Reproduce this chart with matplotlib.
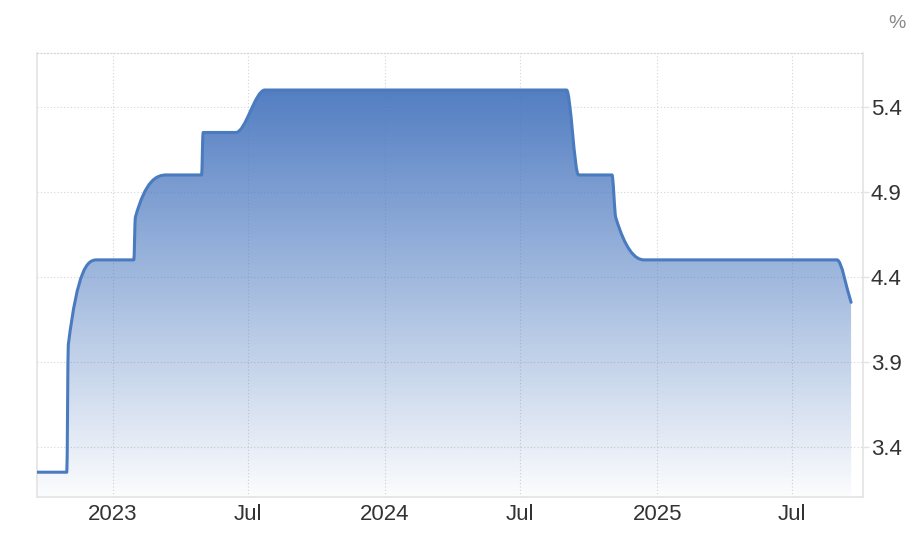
import numpy as np
import matplotlib
matplotlib.use('Agg')
import matplotlib.pyplot as plt
import matplotlib.dates as mdates
from matplotlib.path import Path
from matplotlib.patches import PathPatch

plt.rcParams['font.family'] = ['Liberation Sans', 'DejaVu Sans']

# --- data ---
dates = np.array(['2022-09-21', '2022-10-31', '2022-11-02', '2022-12-10',
                  '2023-01-29', '2023-01-31', '2023-03-14', '2023-04-30',
                  '2023-05-02', '2023-06-15', '2023-07-24', '2024-09-01',
                  '2024-09-17', '2024-11-01', '2024-11-06', '2024-12-14',
                  '2025-08-30', '2025-09-18'], dtype='datetime64[D]')
rates = [3.25, 3.25, 4.00, 4.50,
         4.50, 4.75, 5.00, 5.00,
         5.25, 5.25, 5.50, 5.50,
         5.00, 5.00, 4.75, 4.50,
         4.50, 4.25]

y_ticks = [3.4, 3.9, 4.4, 4.9, 5.4]
x_tick_dates = np.array(['2023-01-01', '2023-07-01', '2024-01-01',
                         '2024-07-01', '2025-01-01', '2025-07-01'], dtype='datetime64[D]')
x_tick_labels = ['2023', 'Jul', '2024', 'Jul', '2025', 'Jul']

LINE = '#4a7bbf'
GRID = '#d4d4d4'
AXC = '#e3e3e3'
TXT = '#333333'


def monotone_slopes(x, y):
    """PCHIP-style tangents so the spline does not overshoot."""
    h = np.diff(x)
    d = np.diff(y) / h
    m = np.zeros(len(x))
    m[0], m[-1] = d[0], d[-1]
    for k in range(1, len(x) - 1):
        if d[k - 1] * d[k] <= 0:
            m[k] = 0.0
        else:
            w1 = 2 * h[k] + h[k - 1]
            w2 = h[k] + 2 * h[k - 1]
            m[k] = (w1 + w2) / (w1 / d[k - 1] + w2 / d[k])
    if d[0] == 0:
        m[0] = 0.0
    return m


def spline_path(x, y):
    m = monotone_slopes(x, y)
    verts = [(x[0], y[0])]
    codes = [Path.MOVETO]
    for i in range(len(x) - 1):
        h = x[i + 1] - x[i]
        verts += [(x[i] + h / 3, y[i] + m[i] * h / 3),
                  (x[i + 1] - h / 3, y[i + 1] - m[i + 1] * h / 3),
                  (x[i + 1], y[i + 1])]
        codes += [Path.CURVE4] * 3
    return verts, codes


xn = mdates.date2num(dates)
yv = np.array(rates, dtype=float)
ylo, yhi = 3.104, 5.718

fig = plt.figure(figsize=(9.14, 5.38), dpi=100)
ax = fig.add_axes([0.0405, 0.0762, 0.9037, 0.8253])

verts, codes = spline_path(xn, yv)

# gradient area under the curve
area_verts = verts + [(xn[-1], ylo), (xn[0], ylo), (xn[0], ylo)]
area_codes = codes + [Path.LINETO, Path.LINETO, Path.CLOSEPOLY]
area = PathPatch(Path(area_verts, area_codes), fc='none', ec='none')
ax.add_patch(area)
grad = np.zeros((256, 1, 4))
grad[..., 0], grad[..., 1], grad[..., 2] = 0.29, 0.47, 0.75
grad[:, 0, 3] = np.linspace(0.95, 0.02, 256)
im = ax.imshow(grad, extent=[xn[0], xn[-1], ylo, yv.max()], aspect='auto',
               origin='upper', zorder=1, interpolation='bilinear')
im.set_clip_path(area)

line = PathPatch(Path(verts, codes), fill=False, ec=LINE, lw=2.2,
                 capstyle='round', joinstyle='round', zorder=3)
ax.add_patch(line)

ax.set_xlim(mdates.date2num(np.datetime64('2022-09-21')),
            mdates.date2num(np.datetime64('2025-10-04')))
ax.set_ylim(ylo, yhi)

ax.set_xticks(mdates.date2num(x_tick_dates))
ax.set_xticklabels(x_tick_labels)
ax.set_yticks(y_ticks)
ax.set_yticklabels([f'{t:.1f}' for t in y_ticks])
ax.yaxis.tick_right()

ax.set_axisbelow(True)
ax.grid(True, color=GRID, linestyle=(0, (1, 2)), lw=0.8)

for s in ['left', 'right', 'bottom']:
    ax.spines[s].set_color(AXC)
    ax.spines[s].set_linewidth(1.2)
ax.spines['top'].set_color(GRID)
ax.spines['top'].set_linestyle((0, (1, 2)))
ax.spines['top'].set_linewidth(0.8)

ax.tick_params(axis='x', length=0, pad=5, labelsize=16, labelcolor=TXT)
ax.tick_params(axis='y', length=4, width=1.0, color=AXC, pad=1.5,
               labelsize=16, labelcolor=TXT)

fig.text(897 / 914, 1 - 23 / 538, '%', ha='center', va='center',
         color='#888888', fontsize=14)

fig.savefig('out.png', dpi=100)
